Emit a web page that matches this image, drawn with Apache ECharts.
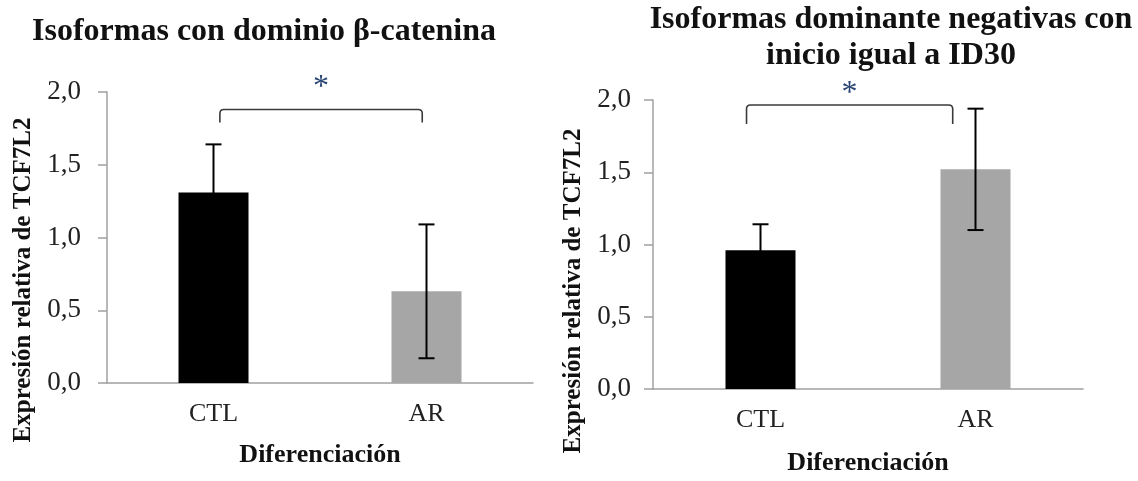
<!DOCTYPE html>
<html>
<head>
<meta charset="utf-8">
<title>TCF7L2</title>
<script src="https://cdn.jsdelivr.net/npm/echarts@6/dist/echarts.min.js"></script>
<style>
  html, body { margin: 0; padding: 0; background: #fff; }
  #main { width: 1138px; height: 481px; }
</style>
</head>
<body>
<div id="main"></div>
<script>
// datos
var categories = ['CTL', 'AR'];
var betaMean = [1.31, 0.63];   // Isoformas con dominio beta-catenina
var betaErr = [0.33, 0.46];
var dnMean = [0.96, 1.52];     // Isoformas dominante negativas (ID30)
var dnErr = [0.18, 0.42];
var barColors = ['#000000', '#a6a6a6'];
var yTicks = [0, 0.5, 1, 1.5, 2];
// corchete de significancia: desde, hasta (posicion de categoria), alto, pie, asterisco
var betaSig = [0.03, 0.98, 1.88, 1.79, 2.08];
var dnSig = [-0.065, 0.894, 1.965, 1.834, 2.09];

var serif = 'Liberation Serif';
var axisGray = '#a0a0a0';

var myChart = echarts.init(document.getElementById('main'));

function barData(vals) {
	return vals.map(function (v, i) {
		return { value: v, itemStyle: { color: barColors[i] } };
	});
}

function errData(vals, errs) {
	return vals.map(function (v, i) { return [i, v, errs[i]]; });
}

function renderErr(params, api) {
	var x = api.value(0);
	var v = api.value(1);
	var e = api.value(2);
	var hi = api.coord([x, v + e]);
	var lo = api.coord([x, v - e]);
	var half = 8;
	var st = { stroke: '#000', lineWidth: 2 };
	return {
		type: 'group',
		children: [
			{ type: 'line', shape: { x1: hi[0], y1: hi[1], x2: lo[0], y2: lo[1] }, style: st },
			{ type: 'line', shape: { x1: hi[0] - half, y1: hi[1], x2: hi[0] + half, y2: hi[1] }, style: st },
			{ type: 'line', shape: { x1: lo[0] - half, y1: lo[1], x2: lo[0] + half, y2: lo[1] }, style: st }
		]
	};
}

function renderSig(params, api) {
	var band = api.size([1, 0])[0];
	var top = api.coord([0, api.value(1)]);
	var foot = api.coord([0, api.value(2)]);
	var x1 = top[0] + api.value(3) * band;
	var x2 = top[0] + api.value(4) * band;
	var star = api.coord([0, api.value(5)]);
	var yt = top[1], yb = foot[1], r = 4;
	var d = 'M' + x1 + ' ' + yb + ' L' + x1 + ' ' + (yt + r) +
		' Q' + x1 + ' ' + yt + ' ' + (x1 + r) + ' ' + yt +
		' L' + (x2 - r) + ' ' + yt +
		' Q' + x2 + ' ' + yt + ' ' + x2 + ' ' + (yt + r) +
		' L' + x2 + ' ' + yb;
	return {
		type: 'group',
		children: [
			{ type: 'path', shape: { pathData: d }, style: { stroke: '#3a3a3a', lineWidth: 1.6, fill: 'none' } },
			// el glifo '*' queda alto en la caja, se baja un poco
			{ type: 'text', x: (x1 + x2) / 2, y: star[1] + 7,
			  style: { text: '*', font: '32px ' + serif, fill: '#2a4674', align: 'center', verticalAlign: 'middle' } }
		]
	};
}

function sigData(s) {
	return [[0, s[2], s[3], s[0], s[1], s[4]]];
}

function yAxisOpt(idx, margin) {
	return {
		gridIndex: idx,
		type: 'value',
		min: yTicks[0],
		max: yTicks[yTicks.length - 1],
		interval: yTicks[1] - yTicks[0],
		splitLine: { show: false },
		axisLine: { show: true, lineStyle: { color: axisGray, width: 1.5 } },
		axisTick: { show: true, length: 9, lineStyle: { color: axisGray, width: 1.5 } },
		axisLabel: {
			margin: margin,
			color: '#222',
			fontFamily: serif,
			fontSize: 27,
			formatter: function (v) { return v.toFixed(1).replace('.', ','); }
		}
	};
}

function xAxisOpt(idx, gap) {
	return {
		gridIndex: idx,
		type: 'category',
		data: categories,
		name: 'Diferenciación',
		nameLocation: 'middle',
		nameGap: gap,
		nameTextStyle: { fontFamily: serif, fontWeight: 'bold', fontSize: 26, color: '#111' },
		axisLine: { show: true, lineStyle: { color: axisGray, width: 1.5 } },
		axisTick: { show: false },
		axisLabel: { margin: 18, color: '#222', fontFamily: serif, fontSize: 26 }
	};
}

var option = {
	animation: false,
	backgroundColor: '#ffffff',
	title: [{
		text: 'Isoformas con dominio β-catenina',
		left: 259,
		top: 11,
		textAlign: 'center',
		textStyle: { fontFamily: serif, fontWeight: 'bold', fontSize: 32, color: '#111' }
	}, {
		text: 'Isoformas dominante negativas con\ninicio igual a ID30',
		left: 886,
		top: -3,
		textAlign: 'center',
		textStyle: { fontFamily: serif, fontWeight: 'bold', fontSize: 32, lineHeight: 36, color: '#111' }
	}],
	graphic: [{
		type: 'text', x: 24, y: 280, rotation: Math.PI / 2,
		style: { text: 'Expresión relativa de TCF7L2', font: 'bold 25px ' + serif, fill: '#111', align: 'center', verticalAlign: 'middle' }
	}, {
		type: 'text', x: 574, y: 291, rotation: Math.PI / 2,
		style: { text: 'Expresión relativa de TCF7L2', font: 'bold 25px ' + serif, fill: '#111', align: 'center', verticalAlign: 'middle' }
	}],
	grid: [
		{ left: 107, right: 605, top: 92, bottom: 98 },
		{ left: 653, right: 55, top: 100, bottom: 87 }
	],
	xAxis: [xAxisOpt(0, 59), xAxisOpt(1, 61)],
	yAxis: [yAxisOpt(0, 26), yAxisOpt(1, 22)],
	series: [
		{ type: 'bar', xAxisIndex: 0, yAxisIndex: 0, barWidth: 70, data: barData(betaMean) },
		{ type: 'custom', xAxisIndex: 0, yAxisIndex: 0, z: 5, renderItem: renderErr, data: errData(betaMean, betaErr) },
		{ type: 'custom', xAxisIndex: 0, yAxisIndex: 0, z: 5, renderItem: renderSig, data: sigData(betaSig) },
		{ type: 'bar', xAxisIndex: 1, yAxisIndex: 1, barWidth: 70, data: barData(dnMean) },
		{ type: 'custom', xAxisIndex: 1, yAxisIndex: 1, z: 5, renderItem: renderErr, data: errData(dnMean, dnErr) },
		{ type: 'custom', xAxisIndex: 1, yAxisIndex: 1, z: 5, renderItem: renderSig, data: sigData(dnSig) }
	]
};

myChart.setOption(option);
</script>
</body>
</html>
